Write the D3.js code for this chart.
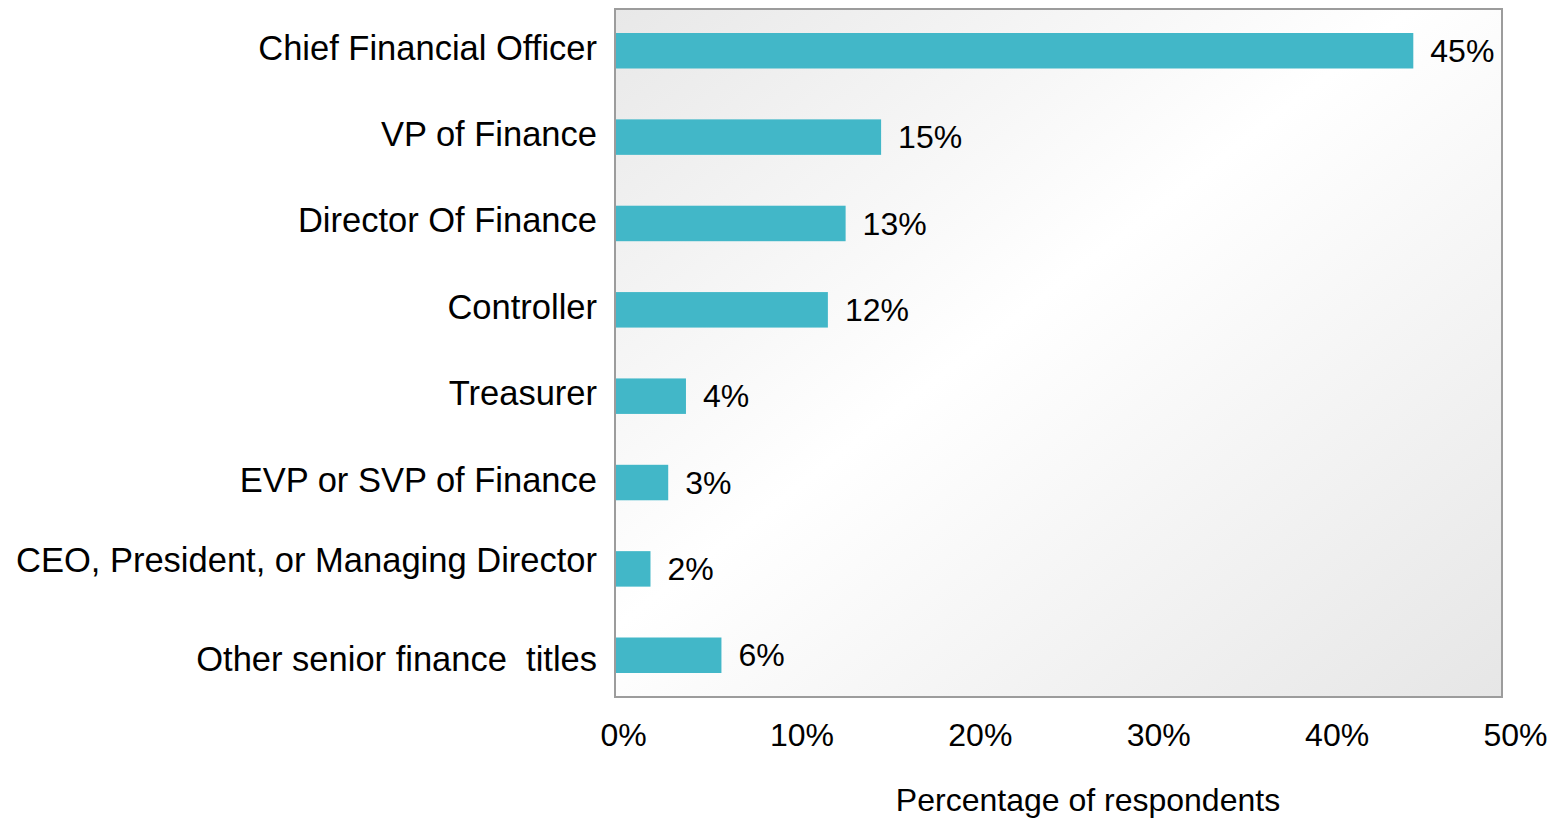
<!DOCTYPE html>
<head>
<meta charset="utf-8">
<style>

body {
  margin: 0;
  background-color: #fff;
  font-family: "Liberation Sans", Arial, sans-serif;
}

.value, .tick text, .title {
  font-size: 32px;
  fill: #000;
}

.label {
  font-size: 34.5px;
  fill: #000;
}

.bar {
  fill: #42b7c8;
}

</style>
</head>
<body>
<svg width="1560" height="820"></svg>
<script src="https://d3js.org/d3.v7.min.js"></script>
<script>
// Survey: job title of respondents
var titles = [
  "Chief Financial Officer",
  "VP of Finance",
  "Director Of Finance",
  "Controller",
  "Treasurer",
  "EVP or SVP of Finance",
  "CEO, President, or Managing Director",
  "Other senior finance  titles"
];
var shares = [45, 15, 13, 12, 4, 3, 2, 6];
var tickValues = [0, 10, 20, 30, 40, 50];

var svg = d3.select("svg"),
    margin = {top: 9, right: 58, bottom: 123, left: 615},
    plotW = +svg.attr("width") - margin.left - margin.right,
    plotH = +svg.attr("height") - margin.top - margin.bottom;

var x = d3.scaleLinear()
    .domain([0, 50])
    .range([margin.left, margin.left + plotW]);

var y = d3.scaleBand()
    .domain(titles)
    .range([margin.top, margin.top + plotH])
    .paddingInner(0.589)
    .paddingOuter(0.278);

// background gradient of the plot box
var grad = svg.append("defs").append("linearGradient")
    .attr("id", "bg")
    .attr("x1", 0).attr("y1", 0)
    .attr("x2", 1).attr("y2", 1);
grad.append("stop").attr("offset", 0).attr("stop-color", "#e8e8e8");
grad.append("stop").attr("offset", 0.45).attr("stop-color", "#ffffff");
grad.append("stop").attr("offset", 1).attr("stop-color", "#e6e6e6");

svg.append("rect")
    .attr("x", margin.left)
    .attr("y", margin.top)
    .attr("width", plotW)
    .attr("height", plotH)
    .style("fill", "url(#bg)");

var rows = titles.map(function(t, i) { return {title: t, value: shares[i]}; });

svg.append("g")
  .selectAll("rect")
  .data(rows)
  .enter().append("rect")
    .attr("class", "bar")
    .attr("x", x(0))
    .attr("y", function(d) { return y(d.title); })
    .attr("width", function(d) { return x(d.value) - x(0); })
    .attr("height", y.bandwidth());

// box border drawn on top of bars
svg.append("rect")
    .attr("x", margin.left)
    .attr("y", margin.top)
    .attr("width", plotW)
    .attr("height", plotH)
    .style("fill", "none")
    .style("stroke", "#9c9c9c")
    .style("stroke-width", 2);

svg.append("g")
  .selectAll("text")
  .data(rows)
  .enter().append("text")
    .attr("class", "value")
    .attr("x", function(d) { return x(d.value) + 17; })
    .attr("y", function(d) { return y(d.title) + y.bandwidth() / 2; })
    .attr("dy", "0.35em")
    .text(function(d) { return d.value + "%"; });

// the source chart's labels are not all quite centred on their bars
var labelNudge = {"CEO, President, or Managing Director": -6, "Other senior finance  titles": 7};

svg.append("g")
  .selectAll("text")
  .data(rows)
  .enter().append("text")
    .attr("class", "label")
    .attr("x", margin.left - 18)
    .attr("y", function(d) { return y(d.title) + y.bandwidth() / 2 + 9 + (labelNudge[d.title] || 0); })
    .style("text-anchor", "end")
    .style("white-space", "pre")
    .text(function(d) { return d.title; });

// tick labels sit slightly right of their gridline positions in the original
var xLabels = x.copy().range([margin.left + 8, margin.left + plotW + 13]);

var xAxis = svg.append("g")
    .attr("transform", "translate(0," + (margin.top + plotH) + ")")
    .call(d3.axisBottom(xLabels)
      .tickValues(tickValues)
      .tickSize(0)
      .tickPadding(26)
      .tickFormat(function(d) { return d + "%"; }));

xAxis.select(".domain").remove();
xAxis.selectAll(".tick text")
    .style("font-family", "\"Liberation Sans\", Arial, sans-serif");

svg.append("text")
    .attr("class", "title")
    .attr("x", 1088)
    .attr("y", 811)
    .style("text-anchor", "middle")
    .text("Percentage of respondents");

</script>
</body>
